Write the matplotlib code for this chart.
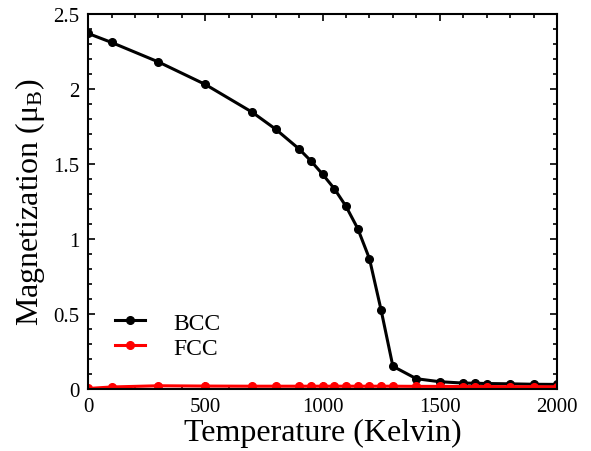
import matplotlib
matplotlib.use("Agg")
import matplotlib.pyplot as plt
from matplotlib.ticker import MultipleLocator, FuncFormatter

plt.rcParams['font.family'] = ['Liberation Serif', 'DejaVu Serif']
plt.rcParams['mathtext.fontset'] = 'custom'
plt.rcParams['mathtext.rm'] = 'Liberation Serif'
plt.rcParams['mathtext.it'] = 'Liberation Serif:italic'

# Temperatures sampled (K)
temps = [0, 100, 300, 500, 700, 800, 900, 950, 1000, 1050, 1100, 1150, 1200,
         1250, 1300, 1400, 1500, 1600, 1650, 1700, 1800, 1900, 2000]

bcc = [2.37, 2.31, 2.18, 2.03, 1.845, 1.732, 1.60, 1.521, 1.432, 1.336, 1.218,
       1.07, 0.869, 0.525, 0.152, 0.069, 0.049, 0.040, 0.039, 0.037, 0.035,
       0.032, 0.031]

fcc = [0.004, 0.014, 0.022, 0.020, 0.019, 0.019, 0.019, 0.019, 0.019, 0.019,
       0.019, 0.019, 0.019, 0.019, 0.019, 0.018, 0.018, 0.017, 0.017, 0.017,
       0.016, 0.016, 0.015]

fig = plt.figure(figsize=(5.91, 4.52), dpi=100)
ax = fig.add_axes([0.149, 0.137, 0.7935, 0.830])

ax.plot(temps, bcc, color='black', lw=2.2, marker='o', ms=5.5, label='BCC')
ax.plot(temps, fcc, color='#ff0000', lw=2.2, marker='o', ms=5.5, label='FCC')

ax.set_xlim(0, 2000)
ax.set_ylim(0, 2.5)
ax.xaxis.set_major_locator(MultipleLocator(500))
ax.xaxis.set_minor_locator(MultipleLocator(100))
ax.yaxis.set_major_locator(MultipleLocator(0.5))
ax.yaxis.set_minor_locator(MultipleLocator(0.1))
ax.yaxis.set_major_formatter(FuncFormatter(lambda v, p: f"{v:g}"))

ax.tick_params(which='both', direction='in', top=True, right=True, width=1.2)
ax.tick_params(which='major', length=5, labelsize=15, pad=6)
ax.tick_params(which='minor', length=3)
for s in ax.spines.values():
    s.set_linewidth(1.5)

ax.set_xlabel('Temperature (Kelvin)', fontsize=23, labelpad=1)
ax.set_ylabel('Magnetization (μ$_\\mathrm{B}$)', fontsize=23, labelpad=5)

ax.legend(loc='center left', bbox_to_anchor=(0.0375, 0.143), borderaxespad=0,
          frameon=False, fontsize=17, handlelength=1.27, handletextpad=1.2,
          labelspacing=0.15)

fig.savefig('out.png', dpi=100)
